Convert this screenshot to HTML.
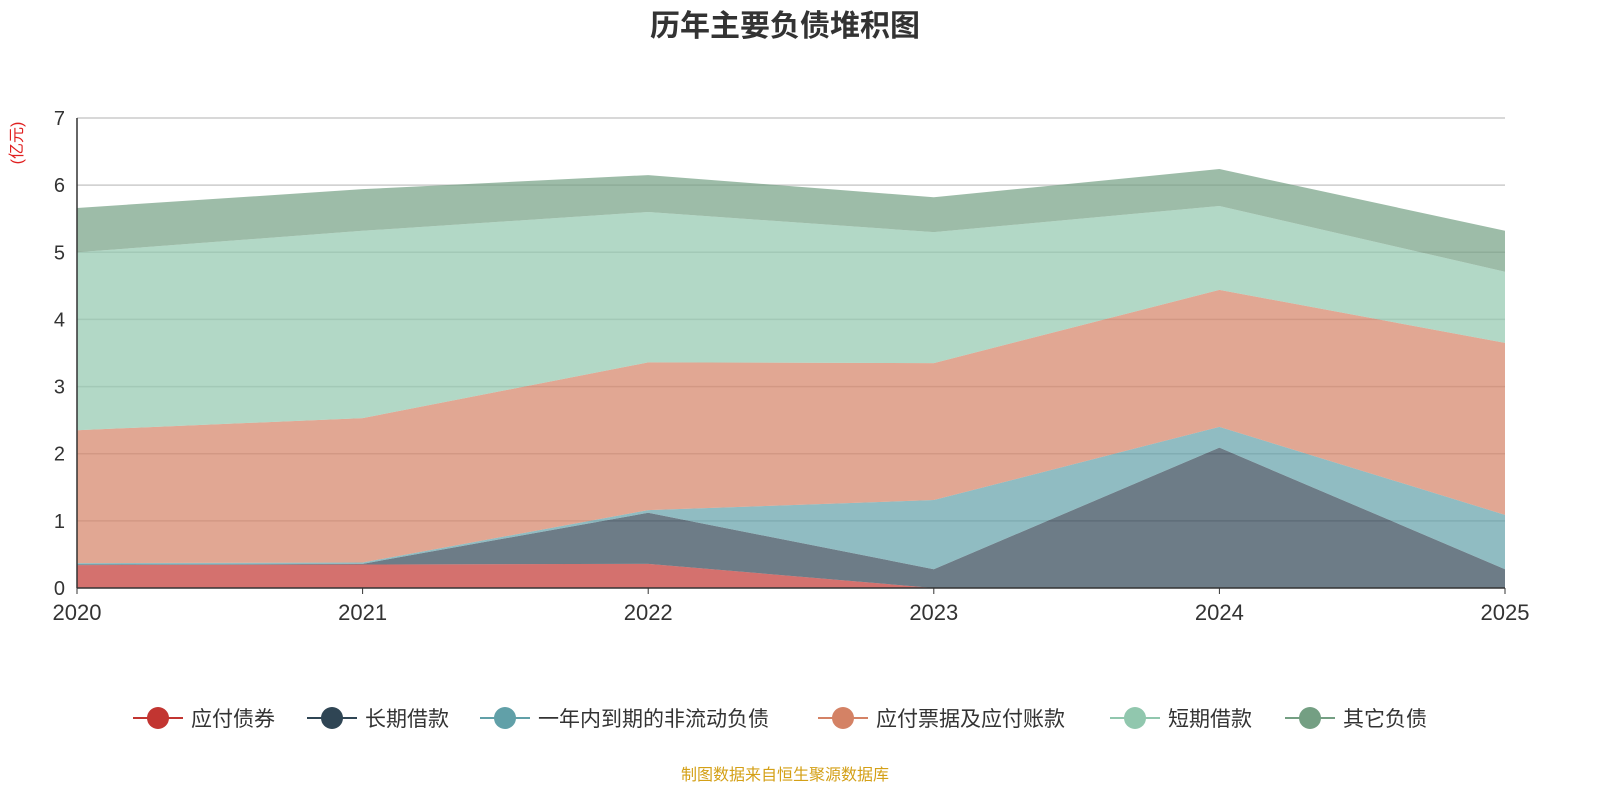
<!DOCTYPE html>
<html><head><meta charset="utf-8"><style>
body{margin:0;background:#fff;font-family:"Liberation Sans","Noto Sans CJK SC",sans-serif;}
</style></head><body>
<svg id="chart" width="1600" height="800" xmlns="http://www.w3.org/2000/svg">
<text x="785" y="36" text-anchor="middle" font-size="30" font-weight="bold" fill="#333">历年主要负债堆积图</text>
<text transform="translate(22,143) rotate(-90)" text-anchor="middle" font-size="16" fill="#e02020">(亿元)</text>
<g id="grid"></g><g id="areas"></g><g id="axes"></g><g id="legend"></g>
<text x="785" y="780" text-anchor="middle" font-size="16" fill="#d4a017">制图数据来自恒生聚源数据库</text>
</svg>
<script>
const years=["2020","2021","2022","2023","2024","2025"];
const yTicks=[0,1,2,3,4,5,6,7];
const names=["应付债券","长期借款","一年内到期的非流动负债","应付票据及应付账款","短期借款","其它负债"];
const colors=["#c23531","#2f4554","#61a0a8","#d48265","#91c7ae","#749f83"];
const bonds=[0.34,0.35,0.36,0,0,0];
const longLoans=[0.01,0.01,0.76,0.28,2.09,0.28];
const dueWithinYear=[0.02,0.02,0.04,1.03,0.31,0.81];
const payables=[1.98,2.15,2.2,2.04,2.04,2.56];
const shortLoans=[2.65,2.79,2.24,1.95,1.25,1.06];
const others=[0.66,0.62,0.55,0.52,0.55,0.61];
const series=[bonds,longLoans,dueWithinYear,payables,shortLoans,others];
const X0=77,X1=1505,Y0=588,Y1=118,YMAX=7;
const x=i=>X0+(X1-X0)*i/(years.length-1);
const y=v=>Y0-(Y0-Y1)*v/YMAX;
const NS="http://www.w3.org/2000/svg";
function mk(tag,attrs,parent){const e=document.createElementNS(NS,tag);for(const k in attrs)e.setAttribute(k,attrs[k]);parent.appendChild(e);return e;}
const grid=document.getElementById('grid'),areas=document.getElementById('areas'),axes=document.getElementById('axes'),legend=document.getElementById('legend');
yTicks.forEach(t=>{
 if(t>0){const l=mk('line',{x1:X0,x2:X1,y1:y(t),y2:y(t),stroke:'#ccc','stroke-width':1.5},grid);
 
 }
 const tx=mk('text',{x:X0-12,y:y(t)+7,'text-anchor':'end','font-size':20,fill:'#333'},axes);tx.textContent=t;
 
 
});
let base=years.map(()=>0);
series.forEach((s,k)=>{
 const top=base.map((b,i)=>b+s[i]);
 let d='M'+top.map((v,i)=>x(i)+','+y(v)).join(' L');
 for(let i=years.length-1;i>=0;i--)d+=' L'+x(i)+','+y(base[i]);
 const p=mk('path',{d:d+'Z',fill:colors[k],'fill-opacity':0.7,stroke:'none'},areas);
 
 
 base=top;
});
mk('line',{x1:X0,x2:X0,y1:Y1,y2:Y0,stroke:'#333','stroke-width':1.5},axes);
mk('line',{x1:X0,x2:X1,y1:Y0,y2:Y0,stroke:'#333','stroke-width':1.5},axes);
years.forEach((yr,i)=>{
 mk('line',{x1:x(i),x2:x(i),y1:Y0,y2:Y0+6,stroke:'#333'},axes);
 const t=mk('text',{x:x(i),y:Y0+32,'text-anchor':'middle','font-size':22,fill:'#333'},axes);t.textContent=yr;
 
 
});
const lx=[133,307,480,818,1110,1285];
names.forEach((n,k)=>{
 const g=mk('g',{},legend);
 
 
 mk('line',{x1:lx[k],x2:lx[k]+50,y1:718,y2:718,stroke:colors[k],'stroke-width':2},g);
 mk('circle',{cx:lx[k]+25,cy:718,r:11,fill:colors[k]},g);
 const t=mk('text',{x:lx[k]+58,y:726,'font-size':21,fill:'#333'},g);t.textContent=n;
});
</script>
</body></html>
